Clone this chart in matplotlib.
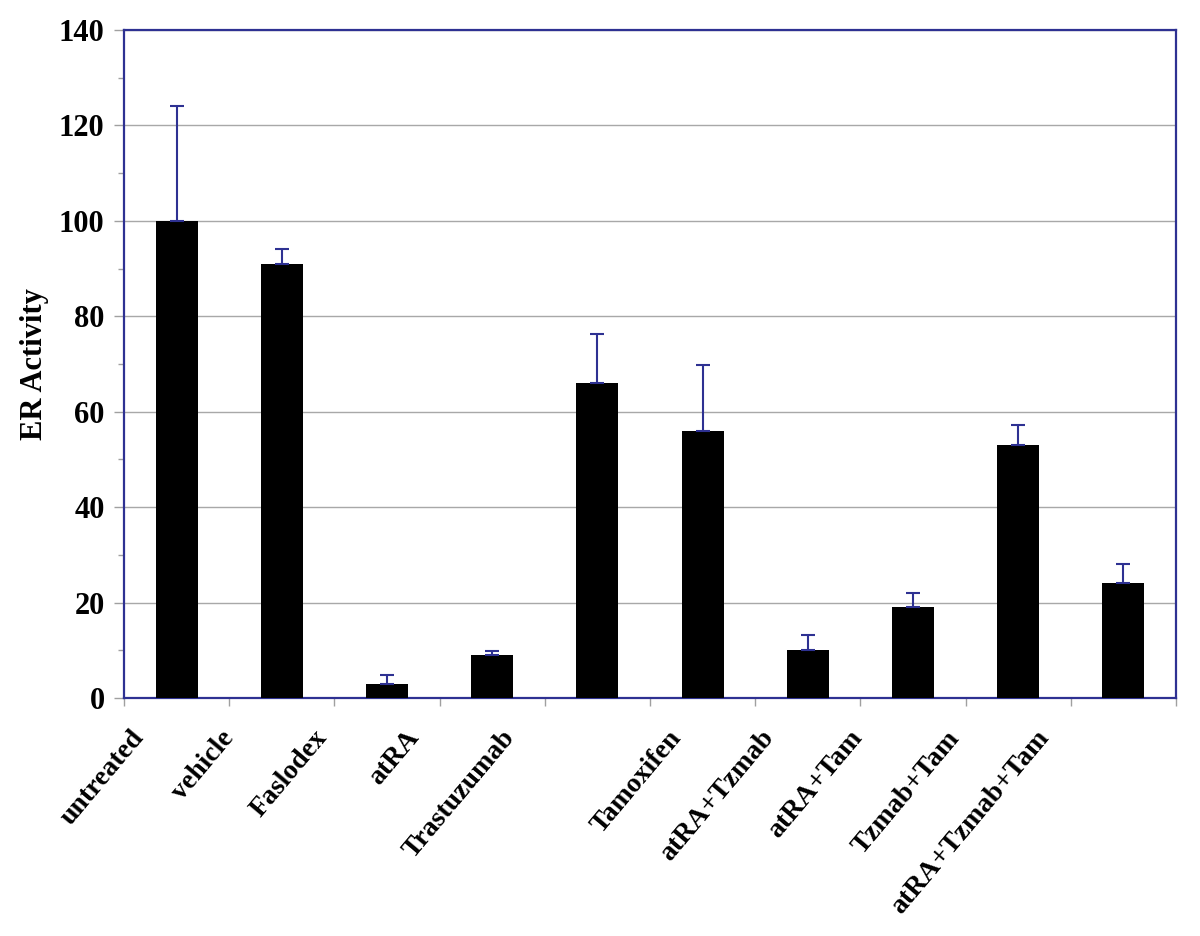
import matplotlib
matplotlib.use("Agg")
import matplotlib.pyplot as plt
from matplotlib.ticker import MultipleLocator
from matplotlib.transforms import ScaledTranslation

categories = ["untreated", "vehicle", "Faslodex", "atRA", "Trastuzumab",
              "Tamoxifen", "atRA+Tzmab", "atRA+Tam", "Tzmab+Tam", "atRA+Tzmab+Tam"]
values = [100, 91, 3, 9, 66, 56, 10, 19, 53, 24]
errors = [24, 3.2, 1.8, 0.8, 10.3, 13.8, 3.2, 3, 4.2, 4]

# layout: horizontal shift (px) of each rotated label relative to its bar
label_dx = [-46, -62, -74, -87, -96, -35, -48, -65, -72, -88]

navy = "#2E3192"
plt.rcParams["font.family"] = ["Liberation Serif", "DejaVu Serif"]
plt.rcParams["font.weight"] = "bold"

fig = plt.figure(figsize=(12, 9.36), dpi=100)
ax = fig.add_axes([124/1200, 1-698/936, (1176-124)/1200, (698-30)/936])

x = list(range(len(categories)))
ax.bar(x, values, width=0.4, color="black", zorder=3)
ax.errorbar(x, values, yerr=[[0]*len(errors), errors], fmt="none",
            ecolor=navy, elinewidth=1.5, capsize=5, capthick=1.5, zorder=4)

ax.set_xlim(-0.5, len(categories) - 0.5)
ax.set_ylim(0, 140)
ax.yaxis.set_major_locator(MultipleLocator(20))
ax.yaxis.set_minor_locator(MultipleLocator(10))
ax.yaxis.grid(True, which="major", color="#A8A8A8", linewidth=1, zorder=0)
ax.set_axisbelow(True)

for s in ax.spines.values():
    s.set_color(navy)
    s.set_linewidth(1.6)

ax.tick_params(axis="y", which="major", length=7, width=1, color="#A0A0A0",
               labelsize=22, pad=7)
ax.tick_params(axis="y", which="minor", length=4, width=1, color="#A0A0A0")
for lab in ax.get_yticklabels():
    lab.set_fontweight("bold")

# x ticks at category boundaries, labels at bar centers
ax.set_xticks([i + 0.5 for i in range(len(categories) - 1)] + [-0.5, len(categories) - 0.5])
ax.set_xticklabels([])
ax.tick_params(axis="x", which="major", length=6, width=1, color="#A0A0A0")
ax.set_xticks(x, minor=True)
ax.set_xticklabels(categories, minor=True, rotation=50, ha="right",
                   va="top", rotation_mode="anchor", fontsize=20, fontweight="bold")
ax.tick_params(axis="x", which="minor", length=0, pad=20)
for lab, dx in zip(ax.get_xticklabels(minor=True), label_dx):
    lab.set_transform(lab.get_transform() + ScaledTranslation(dx/100, 0, fig.dpi_scale_trans))

ax.set_ylabel("ER Activity", fontsize=22, fontweight="bold", va="center")
ax.yaxis.set_label_coords((35 - 124) / 1052, 0.5)

fig.savefig("out.png", dpi=100)
